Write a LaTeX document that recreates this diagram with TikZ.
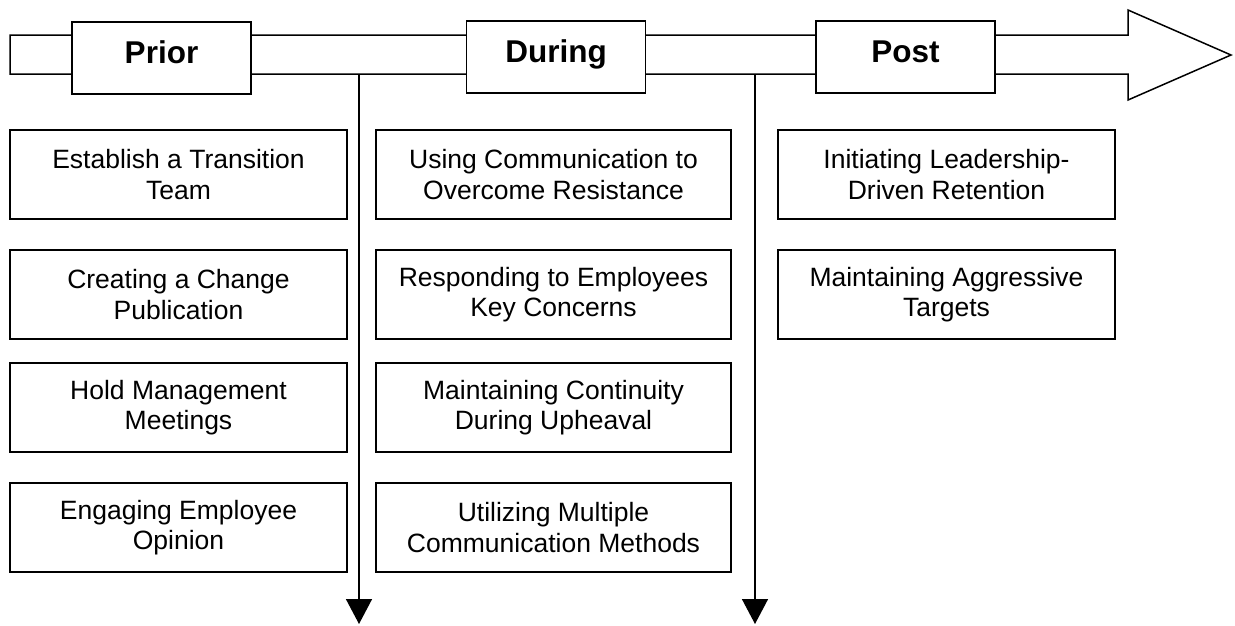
\documentclass[tikz,border=0pt]{standalone}
\usepackage{fontspec}
\setmainfont{Liberation Sans}
\usetikzlibrary{arrows.meta}
\begin{document}
\begin{tikzpicture}[x=1pt,y=-1pt,
  line width=1.5pt,
  item/.style={draw, fill=white, align=center, inner sep=0pt,
    font=\fontsize{26.5}{30.5}\selectfont, minimum height=89pt},
  phase/.style={draw, fill=white, inner sep=0pt,
    font=\bfseries\fontsize{31.5}{36}\selectfont, text height=22.6pt, text depth=12.6pt,
    minimum width=179pt, minimum height=72pt},
  flow/.style={-{Triangle[width=26pt,length=25pt]}}]
\useasboundingbox (0,0) rectangle (1235,625);
% main timeline arrow
\draw[fill=white, line join=miter] (10,35) -- (1128,35) -- (1128,10) -- (1231,55)
  -- (1128,100) -- (1128,74) -- (10,74) -- cycle;
% phase labels
\node[phase] (prior)  at (161.5,58) {Prior};
\node[phase] (during) at (556,57)   {During};
\node[phase] (post)   at (905.5,57) {Post};
% dividers
\coordinate (d1s) at (359,74);
\coordinate (d1e) at (359,624);
\coordinate (d2s) at (755,74);
\coordinate (d2e) at (755,624);
\draw[flow] (d1s) -- (d1e);
\draw[flow] (d2s) -- (d2e);
% Prior column
\node[item, minimum width=337pt] (p1) at (178.5,174.5) {Establish a Transition\\Team};
\node[item, minimum width=337pt] (p2) at (178.5,294.5) {Creating a Change\\Publication};
\node[item, minimum width=337pt] (p3) at (178.5,407.5) {Hold Management\\Meetings};
\node[item, minimum width=337pt] (p4) at (178.5,527.5) {Engaging Employee\\Opinion};
% During column
\node[item, minimum width=355pt] (m1) at (553.5,174.5) {Using Communication to\\Overcome Resistance};
\node[item, minimum width=355pt] (m2) at (553.5,294.5) {Responding to Employees\\Key Concerns};
\node[item, minimum width=355pt] (m3) at (553.5,407.5) {Maintaining Continuity\\During Upheaval};
\node[item, minimum width=355pt] (m4) at (553.5,527.5) {Utilizing Multiple\\Communication Methods};
% Post column
\node[item, minimum width=337pt] (q1) at (946.5,174.5) {Initiating Leadership-\\Driven Retention};
\node[item, minimum width=337pt] (q2) at (946.5,294.5) {Maintaining Aggressive\\Targets};
\end{tikzpicture}
\end{document}
